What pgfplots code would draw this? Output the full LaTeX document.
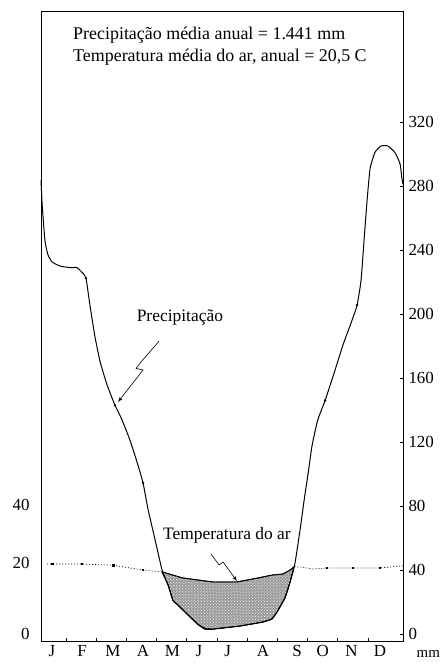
\documentclass[border=0pt]{standalone}
\usepackage{pgfplots}
\pgfplotsset{compat=1.18}
\usepackage{fontspec}
\setmainfont{Liberation Serif}
\usetikzlibrary{patterns}

\begin{document}
\begin{tikzpicture}
\begin{axis}[name=ax, scale only axis, width=362bp, height=630bp,
  xmin=0.17, xmax=12.16, ymin=-4.375, ymax=389.4,
  axis line style={line width=0.9bp},
  /pgf/number format/assume math mode=true,
  ticklabel style={font=\fontsize{17}{17}\selectfont},
  xtick={1,...,11}, xticklabels={},
  extra x ticks={0.53,1.53,2.55,3.55,4.52,5.4,6.35,7.52,8.65,9.5,10.45,11.4},
  extra x tick labels={J,F,M,A,M,J,J,A,S,O,N,D},
  extra x tick style={major tick length=0pt},
  xtick pos=bottom,
  ytick={0,40,...,320}, ytick pos=right, yticklabel pos=right,
  tick align=inside, major tick length=3bp,
  tick style={line width=0.8bp, black},
  yticklabel style={xshift=2bp},
  xticklabel style={yshift=-1bp},
  clip=false,
]
% dry period (shaded)
\addplot[draw=black, line width=0.8bp, fill=gray!80, postaction={pattern=crosshatch dots, pattern color=white}] coordinates {
 (4.18,38.8) (4.87,35) (5.87,32.5) (6.66,32.5) (7.19,34.4) (7.85,36.9) (8.19,37.5) (8.42,40) (8.55,42)
 (8.42,32.5) (8.25,22.5) (7.99,13.8) (7.82,9.4) (7.52,7.5) (6.76,5) (5.83,3) (5.60,3.5) (5.37,6) (5.11,10.6) (4.71,18) (4.54,21) (4.38,30.6) (4.18,38.8)
} --cycle;
% temperature (dotted)
\addplot[black, line width=0.7bp, dash pattern=on 1bp off 2bp] coordinates {
 (0.37,43.75) (0.54,43.75) (1.53,43.75) (2.56,43) (3.55,40) (4.18,38.8)
 (4.87,35) (5.87,32.5) (6.66,32.5) (7.19,34.4) (7.85,36.9) (8.19,37.5) (8.42,40) (8.55,42)
 (8.75,41.9) (9.18,40.6) (9.64,41.25) (10.5,41.25) (11.39,41.25) (12.06,42.5) (12.16,42.5)
};
\addplot[only marks, mark=square*, mark size=0.6bp, black] coordinates {
 (0.54,43.75) (1.53,43.75) (2.56,43) (3.55,40) (9.64,41.25) (10.5,41.25) (11.39,41.25)
};
% precipitation
\addplot[black, line width=1bp, smooth, tension=0.3] coordinates {
 (0.17,283.75) (0.21,268) (0.30,246) (0.40,237) (0.54,232.5) (0.80,230) (1.13,229) (1.36,229)
 (1.53,226) (1.66,222.5) (1.79,205.6) (1.96,185.6) (2.13,170) (2.36,155.6) (2.62,143) (2.85,134)
 (3.12,121) (3.35,107.5) (3.55,94.4) (3.72,77.5) (3.95,58.8) (4.18,40) (4.38,30.6) (4.54,21)
 (4.71,18) (5.11,10.6) (5.37,6) (5.60,3) (5.83,3) (6.76,5) (7.52,7.5) (7.82,9.4) (7.99,13.8)
 (8.25,22.5) (8.42,32.5) (8.58,44) (8.75,65) (8.91,87) (9.01,99.4) (9.15,118) (9.34,134)
 (9.58,146) (9.91,165) (10.17,180.6) (10.47,196) (10.64,205.6) (10.77,221) (10.87,246)
 (10.97,271) (11.07,291) (11.23,301) (11.43,305) (11.66,305) (11.89,301) (12.06,294)
 (12.13,284) (12.16,281)
};
\addplot[only marks, mark=*, mark size=1bp, black] coordinates {
 (1.66,222.5) (2.62,143) (3.55,94.4) (9.58,146) (10.64,205.6)
};
% texts
\node[anchor=base west, font=\fontsize{18}{18}\selectfont, inner sep=0pt] at (axis cs:1.23,371.7) {Precipitação média anual = 1.441 mm};
\node[anchor=base west, font=\fontsize{18}{18}\selectfont, inner sep=0pt] at (axis cs:1.23,357.7) {Temperatura média do ar, anual = 20,5 C};
\node[font=\fontsize{17.5}{17.5}\selectfont, inner sep=0pt] at (axis cs:4.77,198.1) {Precipitação};
\node[font=\fontsize{17.5}{17.5}\selectfont, inner sep=0pt] at (axis cs:6.33,61.9) {Temperatura do ar};
\draw[-latex, line width=0.6bp] (axis cs:4.08,183) -- (axis cs:3.48,170) -- (axis cs:3.32,166) -- (axis cs:3.55,165) -- (axis cs:2.72,145);
\draw[-latex, line width=0.6bp] (axis cs:5.80,50) -- (axis cs:6.07,43.1) -- (axis cs:6.20,45) -- (axis cs:6.66,33.1);
\node[font=\fontsize{15}{15}\selectfont, inner sep=0pt] at (axis cs:13.0,-12.5) {mm};
\end{axis}
\begin{axis}[scale only axis, width=362bp, height=630bp,
  xmin=0.17, xmax=12.16, ymin=-4.375, ymax=389.4,
  hide x axis, axis y line*=left, y axis line style={draw=none},
  /pgf/number format/assume math mode=true,
  ticklabel style={font=\fontsize{17}{17}\selectfont},
  ytick={0,44.4,80.6}, yticklabels={0,20,40},
  major tick length=0pt, yticklabel style={xshift=-8bp},
]
\end{axis}
\pgfresetboundingbox
\path[use as bounding box] ([shift={(-41bp,-25bp)}]ax.south west) rectangle ([shift={(39bp,11bp)}]ax.north east);
\end{tikzpicture}
\end{document}
